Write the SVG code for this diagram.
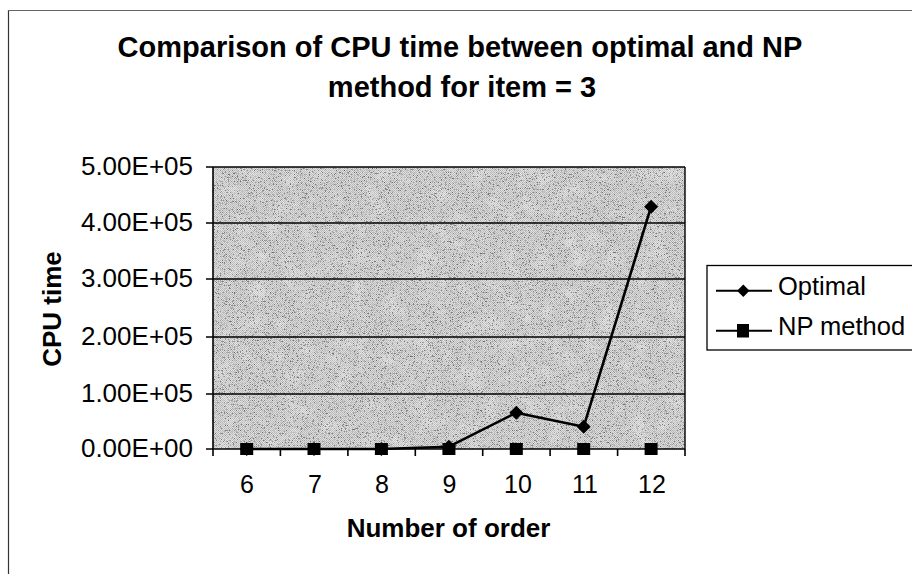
<svg xmlns="http://www.w3.org/2000/svg" width="912" height="574" viewBox="0 0 912 574">
  <style>
    .title { font-family: "Liberation Sans", Arial, sans-serif; font-weight: bold; font-size: 29px; fill: #000; }
    .axtitle { font-family: "Liberation Sans", Arial, sans-serif; font-weight: bold; font-size: 26px; fill: #000; }
    .tick { font-family: "Liberation Sans", Arial, sans-serif; font-size: 26px; fill: #000; }
    .xtick { font-family: "Liberation Sans", Arial, sans-serif; font-size: 25px; fill: #000; text-anchor: middle; }
    .leg { font-family: "Liberation Sans", Arial, sans-serif; font-size: 25.5px; fill: #000; }
    .grid { stroke: #000; stroke-width: 1.4; fill: none; }
    .axis { stroke: #000; stroke-width: 1.6; fill: none; }
    .series { stroke: #000; stroke-width: 2.6; fill: none; stroke-linejoin: round; }
    .mark { fill: #000; }
  </style>
  <defs>
    <!-- halftone-like dither for the plot background -->
    <pattern id="dither" width="2" height="2" patternUnits="userSpaceOnUse">
      <rect width="2" height="2" fill="#dedede"/>
      <rect width="1" height="1" fill="#b6b6b6"/>
      <rect x="1" y="1" width="1" height="1" fill="#bebebe"/>
    </pattern>
    <!-- dark specks scattered over the plot background -->
    <filter id="speck" x="213" y="167" width="472" height="282" filterUnits="userSpaceOnUse">
      <feTurbulence type="fractalNoise" baseFrequency="0.75" numOctaves="3" seed="7" result="t"/>
      <feColorMatrix in="t" type="matrix" values="0 0 0 0 0  0 0 0 0 0  0 0 0 0 0  -6 0 0 0 2.5"/>
    </filter>
    <!-- soft light and dark blotches -->
    <filter id="blotch" x="213" y="167" width="472" height="282" filterUnits="userSpaceOnUse">
      <feTurbulence type="fractalNoise" baseFrequency="0.06" numOctaves="2" seed="3" result="b"/>
      <feColorMatrix in="b" type="matrix" values="0 0 0 0 1  0 0 0 0 1  0 0 0 0 1  3 0 0 0 -1.4"/>
    </filter>
  </defs>

  <rect width="912" height="574" fill="#fff"/>

  <!-- chart frame -->
  <g id="frame">
    <line x1="8.5" y1="10" x2="8.5" y2="574" stroke="#333" stroke-width="1.2"/>
    <line x1="8" y1="10.5" x2="912" y2="10.5" stroke="#666" stroke-width="1"/>
  </g>

  <!-- title -->
  <g id="title">
    <text class="title" x="460" y="57" text-anchor="middle">Comparison of CPU time between optimal and NP</text>
    <text class="title" x="462" y="97" text-anchor="middle">method for item = 3</text>
  </g>

  <!-- plot area -->
  <g id="plot">
    <rect x="213" y="167" width="472" height="282" fill="url(#dither)"/>
    <rect x="213" y="167" width="472" height="282" fill="#000" filter="url(#blotch)" opacity="0.25"/>
    <rect x="213" y="167" width="472" height="282" fill="#000" filter="url(#speck)" opacity="0.45"/>
    <g class="grid">
      <line x1="213" y1="167" x2="685" y2="167"/>
      <line x1="213" y1="223" x2="685" y2="223"/>
      <line x1="213" y1="279" x2="685" y2="279"/>
      <line x1="213" y1="337" x2="685" y2="337"/>
      <line x1="213" y1="394" x2="685" y2="394"/>
      <line x1="685" y1="167" x2="685" y2="449"/>
    </g>
  </g>

  <!-- axes and ticks -->
  <g id="axes" class="axis">
    <line x1="213" y1="167" x2="213" y2="449"/>
    <line x1="206" y1="449" x2="685" y2="449"/>
    <path d="M206 167H213M206 223H213M206 279H213M206 337H213M206 394H213"/>
    <path d="M213 449V456M280.4 449V456M347.9 449V456M415.3 449V456M482.7 449V456M550.1 449V456M617.6 449V456M685 449V456"/>
  </g>

  <!-- y tick labels -->
  <g id="ylabels" class="tick" text-anchor="end">
    <text x="193" y="175">5.00E+05</text>
    <text x="193" y="231">4.00E+05</text>
    <text x="193" y="287">3.00E+05</text>
    <text x="193" y="345">2.00E+05</text>
    <text x="193" y="402">1.00E+05</text>
    <text x="193" y="457">0.00E+00</text>
  </g>

  <!-- x tick labels -->
  <g id="xlabels">
    <text class="xtick" x="247" y="493">6</text>
    <text class="xtick" x="315" y="493">7</text>
    <text class="xtick" x="382" y="493">8</text>
    <text class="xtick" x="449.5" y="493">9</text>
    <text class="xtick" x="518" y="493">10</text>
    <text class="xtick" x="585" y="493">11</text>
    <text class="xtick" x="652" y="493">12</text>
  </g>

  <!-- axis titles -->
  <g id="axis-titles">
    <text class="axtitle" x="448.5" y="537" text-anchor="middle">Number of order</text>
    <text class="axtitle" transform="translate(61 309) rotate(-90)" text-anchor="middle">CPU time</text>
  </g>

  <!-- Optimal series -->
  <g id="series-optimal">
    <polyline class="series" points="246.7,449 314,449 381.4,449 448.9,446.7 516.3,412.7 583.7,426.7 651.1,206.7"/>
    <g class="mark">
      <path d="M246.7 442l7 7l-7 7l-7-7z"/>
      <path d="M314 442l7 7l-7 7l-7-7z"/>
      <path d="M381.4 442l7 7l-7 7l-7-7z"/>
      <path d="M448.9 439.7l7 7l-7 7l-7-7z"/>
      <path d="M516.3 405.7l7 7l-7 7l-7-7z"/>
      <path d="M583.7 419.7l7 7l-7 7l-7-7z"/>
      <path d="M651.1 199.7l7 7l-7 7l-7-7z"/>
    </g>
  </g>

  <!-- NP method series -->
  <g id="series-np" class="mark">
    <rect x="240.2" y="443" width="13" height="12"/>
    <rect x="307.5" y="443" width="13" height="12"/>
    <rect x="374.9" y="443" width="13" height="12"/>
    <rect x="442.4" y="443" width="13" height="12"/>
    <rect x="509.8" y="443" width="13" height="12"/>
    <rect x="577.2" y="443" width="13" height="12"/>
    <rect x="644.6" y="443" width="13" height="12"/>
  </g>

  <!-- legend -->
  <g id="legend">
    <rect x="707" y="265.5" width="210" height="84.5" fill="#fff" stroke="#000" stroke-width="1.3"/>
    <g id="legend-optimal">
      <line x1="716" y1="290.7" x2="772" y2="290.7" stroke="#000" stroke-width="2"/>
      <path class="mark" d="M743.3 284.5l6.2 6.2l-6.2 6.2l-6.2-6.2z"/>
      <text class="leg" x="778" y="295">Optimal</text>
    </g>
    <g id="legend-np">
      <line x1="716" y1="330.7" x2="772" y2="330.7" stroke="#000" stroke-width="2"/>
      <rect class="mark" x="737" y="324" width="12" height="13.5"/>
      <text class="leg" x="778" y="335">NP method</text>
    </g>
  </g>
</svg>
